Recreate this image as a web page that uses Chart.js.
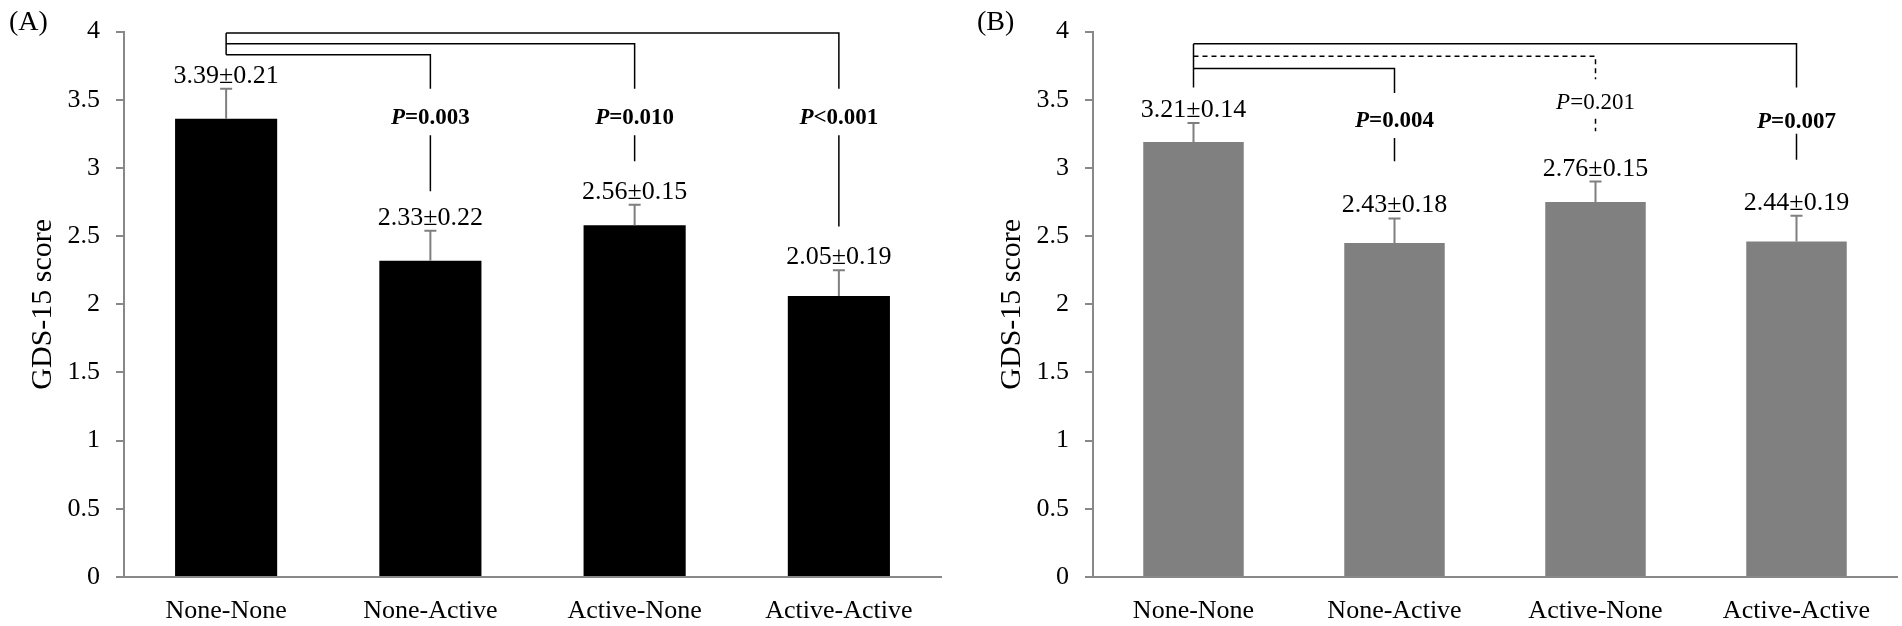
<!DOCTYPE html>
<html>
<head>
<meta charset="utf-8">
<script src="https://cdn.jsdelivr.net/npm/chart.js@4.4.1/dist/chart.umd.min.js"></script>
<style>
  body { margin: 0; background: #fff; overflow: hidden; }
  .panel { position: absolute; top: 0; height: 626px; }
  .tag { position: absolute; top: 5px; font: 28px "Liberation Serif", "Times New Roman", serif; line-height: 32px; color: #000; }
</style>
</head>
<body>
<div class="panel" style="left:0;width:950px"><canvas id="chartA" width="950" height="626"></canvas></div>
<div class="panel" style="left:950px;width:952px"><canvas id="chartB" width="952" height="626"></canvas></div>
<div class="tag" style="left:9px">(A)</div>
<div class="tag" style="left:977px">(B)</div>
<script>
// GDS-15 점수 — 두 패널 막대 + 오차막대 + 유의성 괄호
const SERIF = '"Liberation Serif", "Times New Roman", serif';

const categories = ['None-None', 'None-Active', 'Active-None', 'Active-Active'];

// (A)
const meansA   = [3.36, 2.32, 2.58, 2.06];
const errA     = [0.22, 0.22, 0.15, 0.19];
const labelsA  = ['3.39±0.21', '2.33±0.22', '2.56±0.15', '2.05±0.19'];
const pTextA   = ['=0.003', '=0.010', '<0.001'];
const pBoldA   = [true, true, true];
const pDashA   = [false, false, false];
const targetA  = [1, 2, 3];
const levelA   = [3.83, 3.91, 3.99];
const dropEndA = [3.58, 3.58, 3.58];
const pAtA     = [3.38, 3.38, 3.38];
const lowTopA  = [3.24, 3.24, 3.24];
const lowBotA  = [2.83, 3.05, 2.57];
const stemEndA = 3.83;

// (B)
const meansB   = [3.19, 2.45, 2.75, 2.46];
const errB     = [0.14, 0.18, 0.15, 0.19];
const labelsB  = ['3.21±0.14', '2.43±0.18', '2.76±0.15', '2.44±0.19'];
const pTextB   = ['=0.004', '=0.201', '=0.007'];
const pBoldB   = [true, false, true];
const pDashB   = [false, true, false];
const targetB  = [1, 2, 3];
const levelB   = [3.73, 3.82, 3.91];
const dropEndB = [3.55, 3.65, 3.59];
const pAtB     = [3.36, 3.49, 3.35];
const lowTopB  = [3.22, 3.36, 3.25];
const lowBotB  = [3.05, 3.27, 3.06];
const stemEndB = 3.59;

function marksPlugin(d) {
  return {
    id: 'marks',
    afterDatasetsDraw(chart) {
      const { ctx, scales: { x, y } } = chart;
      ctx.save();

      // 오차막대 + 값 라벨
      d.means.forEach((m, i) => {
        const xc = x.getPixelForValue(i);
        const yb = y.getPixelForValue(m);
        const ye = y.getPixelForValue(m + d.err[i]);
        ctx.strokeStyle = '#7f7f7f';
        ctx.lineWidth = 2;
        ctx.setLineDash([]);
        ctx.beginPath();
        ctx.moveTo(xc, yb); ctx.lineTo(xc, ye);
        ctx.moveTo(xc - 6, ye); ctx.lineTo(xc + 6, ye);
        ctx.stroke();
        ctx.fillStyle = '#000';
        ctx.font = '26px ' + SERIF;
        ctx.textAlign = 'center';
        ctx.textBaseline = 'alphabetic';
        ctx.fillText(d.labels[i], xc, ye - 6);
      });

      // 괄호
      const x0 = x.getPixelForValue(0);
      ctx.strokeStyle = '#000';
      ctx.lineWidth = 1.5;
      ctx.setLineDash([]);
      ctx.beginPath();
      ctx.moveTo(x0, y.getPixelForValue(Math.max(...d.level)));
      ctx.lineTo(x0, y.getPixelForValue(d.stemEnd));
      ctx.stroke();

      d.target.forEach((t, k) => {
        const xt = x.getPixelForValue(t);
        ctx.setLineDash(d.dash[k] ? [5, 4] : []);
        ctx.beginPath();
        ctx.moveTo(x0, y.getPixelForValue(d.level[k]));
        ctx.lineTo(xt, y.getPixelForValue(d.level[k]));
        ctx.lineTo(xt, y.getPixelForValue(d.dropEnd[k]));
        ctx.moveTo(xt, y.getPixelForValue(d.lowTop[k]));
        ctx.lineTo(xt, y.getPixelForValue(d.lowBot[k]));
        ctx.stroke();

        // P 값
        const w = d.bold[k] ? 'bold ' : '';
        const fP = 'italic ' + w + '23px ' + SERIF;
        const fR = w + '23px ' + SERIF;
        ctx.font = fP; const wp = ctx.measureText('P').width;
        ctx.font = fR; const wr = ctx.measureText(d.pText[k]).width;
        const sx = xt - (wp + wr) / 2;
        const by = y.getPixelForValue(d.pAt[k]) + 8;
        ctx.textAlign = 'left';
        ctx.font = fP; ctx.fillText('P', sx, by);
        ctx.font = fR; ctx.fillText(d.pText[k], sx + wp, by);
      });
      ctx.restore();
    }
  };
}

function makeChart(id, color, d, yWidth, titlePad, padRight) {
  return new Chart(document.getElementById(id), {
    type: 'bar',
    data: {
      labels: categories,
      datasets: [{ data: d.means, backgroundColor: color, borderWidth: 0, barPercentage: 0.5, categoryPercentage: 1 }]
    },
    options: {
      responsive: false,
      animation: false,
      layout: { padding: { top: 21, right: padRight, bottom: 0, left: 0 } },
      plugins: { legend: { display: false }, tooltip: { enabled: false } },
      scales: {
        x: {
          grid: { drawOnChartArea: false, drawTicks: false },
          border: { color: '#888', width: 2 },
          ticks: { color: '#000', font: { family: SERIF, size: 26 }, padding: 19 },
          afterFit: s => { s.height = 49; }
        },
        y: {
          min: 0, max: 4,
          ticks: { stepSize: 0.5, color: '#000', font: { family: SERIF, size: 26 }, padding: 16, callback: v => String(v) },
          grid: { drawOnChartArea: false, tickLength: 8, color: '#888', lineWidth: 2 },
          border: { color: '#888', width: 2 },
          title: { display: true, text: 'GDS-15 score', color: '#000', font: { family: SERIF, size: 30 }, padding: { top: titlePad, bottom: 0 } },
          afterFit: s => { s.width = yWidth; }
        }
      }
    },
    plugins: [marksPlugin(d)]
  });
}

makeChart('chartA', '#000000', {
  means: meansA, err: errA, labels: labelsA, pText: pTextA, bold: pBoldA, dash: pDashA,
  target: targetA, level: levelA, dropEnd: dropEndA, pAt: pAtA, lowTop: lowTopA, lowBot: lowBotA, stemEnd: stemEndA
}, 124, 25, 9);

makeChart('chartB', '#808080', {
  means: meansB, err: errB, labels: labelsB, pText: pTextB, bold: pBoldB, dash: pDashB,
  target: targetB, level: levelB, dropEnd: dropEndB, pAt: pAtB, lowTop: lowTopB, lowBot: lowBotB, stemEnd: stemEndB
}, 143, 44, 5);
</script>
</body>
</html>
